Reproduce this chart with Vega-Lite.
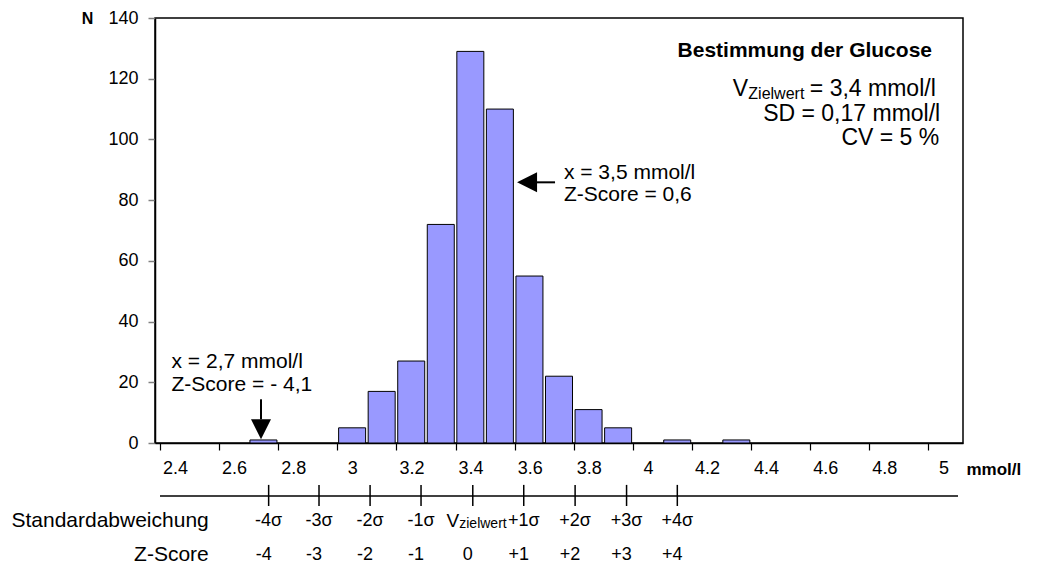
{
  "$schema": "https://vega.github.io/schema/vega-lite/v6.json",
  "width": 808,
  "height": 425,
  "autosize": {"type": "none"},
  "padding": {"left": 155, "top": 18, "right": 75, "bottom": 122},
  "background": "white",
  "config": {
    "font": "Liberation Sans",
    "view": {"stroke": "#000", "strokeWidth": 1.5},
    "axis": {"grid": false, "labelColor": "#000", "titleColor": "#000"},
    "text": {"color": "#000"}
  },
  "datasets": {
    "bars": [
      {"mmol": 2.7, "n": 1},
      {"mmol": 3.0, "n": 5},
      {"mmol": 3.1, "n": 17},
      {"mmol": 3.2, "n": 27},
      {"mmol": 3.3, "n": 72},
      {"mmol": 3.4, "n": 129},
      {"mmol": 3.5, "n": 110},
      {"mmol": 3.6, "n": 55},
      {"mmol": 3.7, "n": 22},
      {"mmol": 3.8, "n": 11},
      {"mmol": 3.9, "n": 5},
      {"mmol": 4.1, "n": 1},
      {"mmol": 4.3, "n": 1}
    ],
    "sigma": [
      {"pos": 2.7176, "s": "-4σ", "z": "-4"},
      {"pos": 2.888, "s": "-3σ", "z": "-3"},
      {"pos": 3.0608, "s": "-2σ", "z": "-2"},
      {"pos": 3.2332, "s": "-1σ", "z": "-1"},
      {"pos": 3.4083, "s": "", "z": "0"},
      {"pos": 3.5807, "s": "+1σ", "z": "+1"},
      {"pos": 3.7545, "s": "+2σ", "z": "+2"},
      {"pos": 3.9286, "s": "+3σ", "z": "+3"},
      {"pos": 4.1003, "s": "+4σ", "z": "+4"}
    ]
  },
  "layer": [
    {
      "data": {"name": "bars"},
      "mark": {"type": "bar", "size": 27, "fill": "#9999FF", "stroke": "#000", "strokeWidth": 1},
      "encoding": {
        "x": {
          "field": "mmol", "type": "quantitative",
          "scale": {"domain": [2.35, 5.05], "nice": false, "zero": false},
          "axis": {
            "title": "mmol/l",
            "values": [2.35, 2.45, 2.55, 2.65, 2.75, 2.85, 2.95, 3.05, 3.15, 3.25, 3.35, 3.45, 3.55, 3.65, 3.75, 3.85, 3.95, 4.05, 4.15, 4.25, 4.35, 4.45, 4.55, 4.65, 4.75, 4.85, 4.95, 5.05],
            "labelExpr": "(round(datum.value*20) % 4 == 3) ? format(datum.value + 0.05, '.1~f') : ''",
            "labelOffset": 15,
            "labelFlush": false,
            "labelOverlap": false,
            "labelFontSize": 18,
            "labelPadding": 9,
            "tickSize": 7,
            "tickColor": "#000",
            "tickWidth": 1.2,
            "domainColor": "#000",
            "domainWidth": 1.5,
            "titleX": 811,
            "titleY": 26,
            "titleAlign": "left",
            "titleBaseline": "middle",
            "titleFontWeight": "bold",
            "titleFontSize": 17
          }
        },
        "y": {
          "field": "n", "type": "quantitative",
          "scale": {"domain": [0, 140], "nice": false},
          "axis": {
            "title": "N",
            "values": [0, 20, 40, 60, 80, 100, 120, 140],
            "labelFontSize": 18,
            "labelPadding": 10,
            "tickSize": 7,
            "tickColor": "#808080",
            "tickWidth": 1.5,
            "domainColor": "#000",
            "domainWidth": 1.5,
            "titleAngle": 0,
            "titleX": -68,
            "titleY": 0,
            "titleAlign": "center",
            "titleBaseline": "middle",
            "titleFontWeight": "bold",
            "titleFontSize": 16
          }
        }
      }
    },
    {
      "data": {"values": [{}]},
      "mark": {"type": "rule", "color": "#000", "strokeWidth": 1.5},
      "encoding": {
        "x": {"datum": 2.35},
        "x2": {"datum": 5.05},
        "y": {"datum": -17.46}
      }
    },
    {
      "data": {"name": "sigma"},
      "mark": {"type": "rule", "color": "#000", "strokeWidth": 1.5},
      "encoding": {
        "x": {"field": "pos", "type": "quantitative"},
        "y": {"datum": -13.8},
        "y2": {"datum": -20.75}
      }
    },
    {
      "data": {"name": "sigma"},
      "mark": {"type": "text", "fontSize": 18, "align": "center", "baseline": "middle"},
      "encoding": {
        "x": {"field": "pos", "type": "quantitative"},
        "y": {"datum": -25.7},
        "text": {"field": "s"}
      }
    },
    {
      "data": {"name": "sigma"},
      "mark": {"type": "text", "fontSize": 18, "align": "center", "baseline": "middle", "dx": -5},
      "encoding": {
        "x": {"field": "pos", "type": "quantitative"},
        "y": {"datum": -36.8},
        "text": {"field": "z"}
      }
    },
    {
      "data": {"values": [{"t": "V"}]},
      "mark": {"type": "text", "fontSize": 19, "align": "left", "baseline": "alphabetic"},
      "encoding": {
        "x": {"datum": 3.319},
        "y": {"datum": -27.6},
        "text": {"field": "t"}
      }
    },
    {
      "data": {"values": [{"t": "zielwert"}]},
      "mark": {"type": "text", "fontSize": 14, "align": "left", "baseline": "alphabetic"},
      "encoding": {
        "x": {"datum": 3.3625},
        "y": {"datum": -28.0},
        "text": {"field": "t"}
      }
    },
    {
      "data": {"values": [{"t": "Standardabweichung"}]},
      "mark": {"type": "text", "fontSize": 21, "align": "right", "baseline": "middle"},
      "encoding": {
        "x": {"datum": 2.515},
        "y": {"datum": -25.7},
        "text": {"field": "t"}
      }
    },
    {
      "data": {"values": [{"t": "Z-Score"}]},
      "mark": {"type": "text", "fontSize": 21, "align": "right", "baseline": "middle"},
      "encoding": {
        "x": {"datum": 2.515},
        "y": {"datum": -36.8},
        "text": {"field": "t"}
      }
    },
    {
      "data": {"values": [{"t": "Bestimmung der Glucose"}]},
      "mark": {"type": "text", "fontSize": 21, "fontWeight": "bold", "align": "right", "baseline": "middle"},
      "encoding": {
        "x": {"datum": 4.962},
        "y": {"datum": 129.2},
        "text": {"field": "t"}
      }
    },
    {
      "data": {"values": [{"t": "V"}]},
      "mark": {"type": "text", "fontSize": 23, "align": "left", "baseline": "alphabetic"},
      "encoding": {
        "x": {"datum": 4.288},
        "y": {"datum": 114.3},
        "text": {"field": "t"}
      }
    },
    {
      "data": {"values": [{"t": "Zielwert"}]},
      "mark": {"type": "text", "fontSize": 16, "align": "left", "baseline": "alphabetic"},
      "encoding": {
        "x": {"datum": 4.3406},
        "y": {"datum": 113.2},
        "text": {"field": "t"}
      }
    },
    {
      "data": {"values": [{"t": "= 3,4 mmol/l"}]},
      "mark": {"type": "text", "fontSize": 23, "align": "left", "baseline": "alphabetic"},
      "encoding": {
        "x": {"datum": 4.5487},
        "y": {"datum": 114.3},
        "text": {"field": "t"}
      }
    },
    {
      "data": {"values": [{"t": "SD = 0,17 mmol/l"}]},
      "mark": {"type": "text", "fontSize": 23, "align": "right", "baseline": "alphabetic"},
      "encoding": {
        "x": {"datum": 4.9898},
        "y": {"datum": 106.0},
        "text": {"field": "t"}
      }
    },
    {
      "data": {"values": [{"t": "CV = 5 %"}]},
      "mark": {"type": "text", "fontSize": 23, "align": "right", "baseline": "alphabetic"},
      "encoding": {
        "x": {"datum": 4.9865},
        "y": {"datum": 98.1},
        "text": {"field": "t"}
      }
    },
    {
      "data": {"values": [{"t": "x = 3,5 mmol/l"}]},
      "mark": {"type": "text", "fontSize": 21, "align": "left", "baseline": "middle"},
      "encoding": {
        "x": {"datum": 3.7167},
        "y": {"datum": 88.8},
        "text": {"field": "t"}
      }
    },
    {
      "data": {"values": [{"t": "Z-Score = 0,6"}]},
      "mark": {"type": "text", "fontSize": 21, "align": "left", "baseline": "middle"},
      "encoding": {
        "x": {"datum": 3.7167},
        "y": {"datum": 81.7},
        "text": {"field": "t"}
      }
    },
    {
      "data": {"values": [{}]},
      "mark": {"type": "rule", "color": "#000", "strokeWidth": 2},
      "encoding": {
        "x": {"datum": 3.6231},
        "x2": {"datum": 3.6866},
        "y": {"datum": 85.87}
      }
    },
    {
      "data": {"values": [{}]},
      "mark": {"type": "point", "shape": "M-1,0L1,-1L1,1Z", "size": 400, "filled": true, "color": "#000", "opacity": 1, "strokeWidth": 0},
      "encoding": {
        "x": {"datum": 3.592},
        "y": {"datum": 85.87}
      }
    },
    {
      "data": {"values": [{"t": "x = 2,7 mmol/l"}]},
      "mark": {"type": "text", "fontSize": 21, "align": "left", "baseline": "middle"},
      "encoding": {
        "x": {"datum": 2.389},
        "y": {"datum": 26.8},
        "text": {"field": "t"}
      }
    },
    {
      "data": {"values": [{"t": "Z-Score = - 4,1"}]},
      "mark": {"type": "text", "fontSize": 21, "align": "left", "baseline": "middle"},
      "encoding": {
        "x": {"datum": 2.389},
        "y": {"datum": 19.1},
        "text": {"field": "t"}
      }
    },
    {
      "data": {"values": [{}]},
      "mark": {"type": "rule", "color": "#000", "strokeWidth": 2},
      "encoding": {
        "x": {"datum": 2.6918},
        "y": {"datum": 14.4},
        "y2": {"datum": 7.8}
      }
    },
    {
      "data": {"values": [{}]},
      "mark": {"type": "point", "shape": "M-1,-1L1,-1L0,1Z", "size": 400, "filled": true, "color": "#000", "opacity": 1, "strokeWidth": 0},
      "encoding": {
        "x": {"datum": 2.6918},
        "y": {"datum": 4.5}
      }
    }
  ]
}
